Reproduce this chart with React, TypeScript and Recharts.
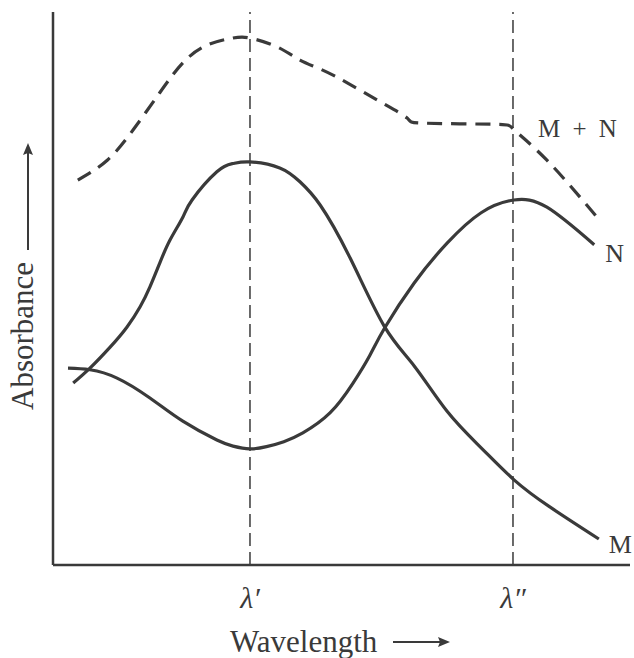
import { LineChart, Line, XAxis, YAxis, ReferenceLine, LabelList } from "recharts";

// wavelength (arbitrary 0-100) and absorbance (arbitrary 0-100)
const M_WAVE = [3.5, 6.4, 9.9, 12.8, 15.1, 16.8, 18.5, 20.3, 22.5, 24.1, 28.4, 31.2, 34.1, 39.3, 42.8, 46.3, 51.5, 57.4, 62.6, 68.3, 74.2, 79.9, 86.1, 94.6]
const M_ABS = [32.9, 35.6, 39.4, 43.0, 46.7, 50.3, 54.6, 58.8, 62.9, 66.0, 71.1, 72.6, 72.9, 71.8, 69.3, 65.1, 55.5, 43.2, 36.0, 27.8, 21.2, 15.4, 10.5, 4.7]

const N_WAVE = [2.6, 6.4, 11.1, 16.8, 22.5, 28.4, 31.2, 34.1, 37.0, 40.0, 43.3, 48.0, 52.0, 54.9, 57.5, 62.6, 68.3, 74.2, 79.9, 85.6, 93.8]
const N_ABS = [35.6, 35.3, 33.8, 30.2, 26.0, 22.6, 21.5, 21.0, 21.4, 22.3, 23.9, 27.5, 32.9, 37.9, 42.9, 51.0, 58.2, 63.7, 66.0, 64.7, 57.9]

const SUM_WAVE = [4.3, 9.4, 13.9, 18.5, 22.5, 26.7, 31.2, 34.1, 38.8, 42.8, 46.3, 51.0, 56.8, 61.4, 64.3, 76.4, 79.9, 85.6, 95.0]
const SUM_ABS = [69.6, 73.2, 78.7, 85.4, 90.8, 94.0, 95.3, 95.3, 93.7, 91.3, 89.7, 87.2, 83.7, 80.8, 79.9, 79.7, 78.7, 73.2, 62.0]

const LAMBDA_TICKS = [34.14, 79.72]
const LAMBDA_LABELS = ["λ′", "λ″"]

const INK = "#3a3a3a"
const FONT = "'Liberation Serif', 'Times New Roman', serif"

const toPoints = (xs: number[], ys: number[]) => xs.map((x, i) => ({ x, y: ys[i] }))

const mData = toPoints(M_WAVE, M_ABS)
const nData = toPoints(N_WAVE, N_ABS)
const sumData = toPoints(SUM_WAVE, SUM_ABS)

function LambdaTick({ x, y, payload }: any) {
    const i = LAMBDA_TICKS.indexOf(payload.value)
    return (
        <text x={x} y={y + 35} textAnchor="middle" fontFamily={FONT} fontStyle="italic" fontSize={30} fill={INK}>
            {LAMBDA_LABELS[i]}
        </text>
    )
}

function XTitle({ viewBox }: any) {
    const x0 = viewBox.x
    const y0 = viewBox.y
    return (
        <g>
            <text x={x0 + 177} y={y0 + 87} fontFamily={FONT} fontSize={31} fill={INK}>Wavelength</text>
            <line x1={x0 + 340} y1={y0 + 77} x2={x0 + 392} y2={y0 + 77} stroke={INK} strokeWidth={2} />
            <path d={`M${x0 + 397} ${y0 + 77} L${x0 + 385} ${y0 + 72} L${x0 + 387} ${y0 + 77} L${x0 + 385} ${y0 + 82} Z`} fill={INK} />
        </g>
    )
}

function YTitle() {
    return (
        <g>
            <text x={33} y={410} transform="rotate(-90 33 410)" fontFamily={FONT} fontSize={31} fill={INK}>Absorbance</text>
            <line x1={28} y1={250} x2={28} y2={150} stroke={INK} strokeWidth={2} />
            <path d="M28 143 L23 155 L28 153 L33 155 Z" fill={INK} />
        </g>
    )
}

const endLabel = (text: string, at: number, dx: number, dy: number, size: number) => (props: any) => {
    if (props.index !== at) return null
    return (
        <text x={props.x + dx} y={props.y + dy} fontFamily={FONT} fontSize={size} fill={INK} wordSpacing={6}>
            {text}
        </text>
    )
}

export default function App() {
    return (
        <div style={{ position: "absolute", left: 0, top: 0, background: "#fff" }}>
            <LineChart width={634} height={658} margin={{ top: 12, right: 4, bottom: 33, left: 3 }}>
                <XAxis
                    dataKey="x"
                    type="number"
                    domain={[0, 100]}
                    ticks={LAMBDA_TICKS}
                    tick={<LambdaTick />}
                    tickLine={false}
                    height={60}
                    axisLine={{ stroke: INK, strokeWidth: 2.5 }}
                    label={<XTitle />}
                    allowDuplicatedCategory={false}
                />
                <YAxis
                    type="number"
                    domain={[0, 100]}
                    tick={false}
                    tickLine={false}
                    width={50}
                    axisLine={{ stroke: INK, strokeWidth: 2.5 }}
                    label={<YTitle />}
                />
                {LAMBDA_TICKS.map((t) => (
                    <ReferenceLine key={t} x={t} stroke={INK} strokeWidth={1.5} strokeDasharray="13 6" />
                ))}
                <Line data={sumData} dataKey="y" type="natural" stroke={INK} strokeWidth={3.2} strokeDasharray="15 9" dot={false} isAnimationActive={false}>
                    <LabelList content={endLabel("M + N", 16, 24, 7, 25)} />
                </Line>
                <Line data={nData} dataKey="y" type="natural" stroke={INK} strokeWidth={3.2} dot={false} isAnimationActive={false}>
                    <LabelList content={endLabel("N", N_WAVE.length - 1, 11, 17, 26)} />
                </Line>
                <Line data={mData} dataKey="y" type="natural" stroke={INK} strokeWidth={3.2} dot={false} isAnimationActive={false}>
                    <LabelList content={endLabel("M", M_WAVE.length - 1, 10, 14, 26)} />
                </Line>
            </LineChart>
        </div>
    )
}
